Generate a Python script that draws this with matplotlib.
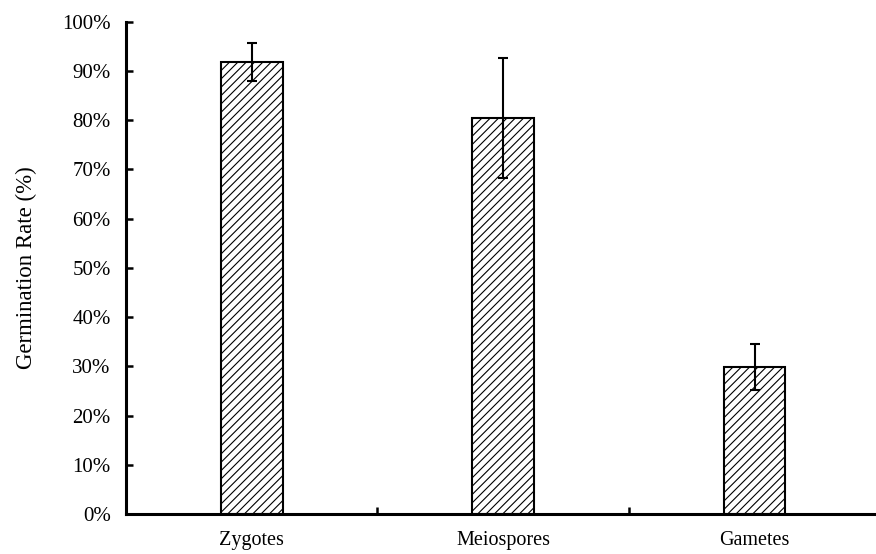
import numpy as np
import matplotlib.pyplot as plt
from matplotlib.ticker import PercentFormatter

plt.rcParams['font.family'] = ['Liberation Serif', 'DejaVu Serif']
plt.rcParams['hatch.color'] = '#333333'
plt.rcParams['hatch.linewidth'] = 0.8

cells = ['Zygotes', 'Meiospores', 'Gametes']
rate = [91.8, 80.4, 29.9]
err = [3.8, 12.2, 4.7]

fig = plt.figure(figsize=(8.76, 5.54), dpi=100)
ax = fig.add_axes([126 / 876, 40 / 554, 750 / 876, 492.3 / 554])

x = np.arange(len(cells))
ax.bar(x, rate, width=0.245, color='white', edgecolor='black', linewidth=1.5,
       hatch='////', zorder=2)
ax.errorbar(x, rate, yerr=err, fmt='none', ecolor='black', elinewidth=1.5,
            capsize=3.5, capthick=1.5, zorder=3)

ax.set_xlim(-0.5, 2.483)
ax.set_ylim(0, 100)
ax.set_yticks(np.arange(0, 101, 10))
ax.yaxis.set_major_formatter(PercentFormatter(decimals=0))

# category labels centred, tick marks between categories (excel style)
ax.set_xticks(x)
ax.set_xticklabels(cells)
ax.set_xticks([0.5, 1.5], minor=True)
ax.tick_params(axis='x', which='major', length=0, pad=12, labelsize=14.5)
ax.tick_params(axis='x', which='minor', direction='in', length=5, width=1.8)
ax.tick_params(axis='y', direction='in', length=5, width=1.8, pad=11, labelsize=15)

for s in ['top', 'right']:
    ax.spines[s].set_visible(False)
for s in ['left', 'bottom']:
    ax.spines[s].set_linewidth(2.2)
ax.spines['bottom'].set_zorder(4)

ax.set_ylabel('Germination Rate (%)', fontsize=16.5, labelpad=18)

fig.savefig('out.png', dpi=100)
